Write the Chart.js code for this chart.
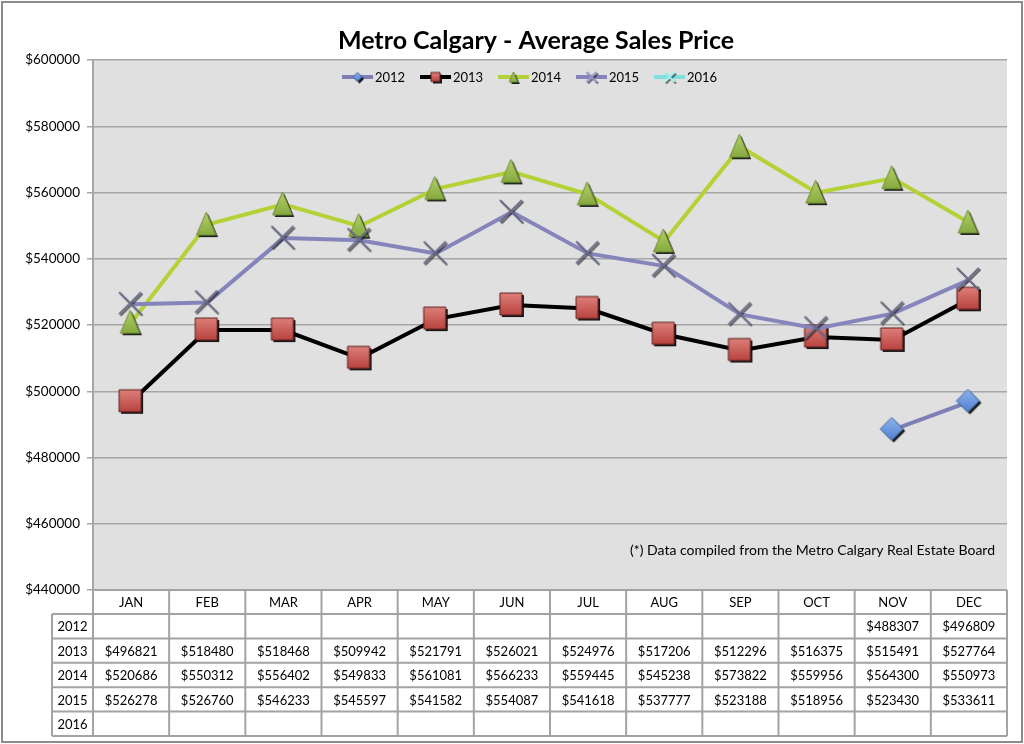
<!DOCTYPE html>
<html>
<head>
<meta charset="utf-8">
<script src="https://cdn.jsdelivr.net/npm/chart.js@4"></script>
<style>
  html, body { margin: 0; padding: 0; background: #fff; }
  #wrap { width: 1024px; height: 744px; position: relative; }
</style>
</head>
<body>
<div id="wrap"><canvas id="salesChart" width="1024" height="744"></canvas></div>
<script>
// dados do gráfico
const months = ['JAN', 'FEB', 'MAR', 'APR', 'MAY', 'JUN', 'JUL', 'AUG', 'SEP', 'OCT', 'NOV', 'DEC'];
const years = ['2012', '2013', '2014', '2015', '2016'];
const price2012 = [null, null, null, null, null, null, null, null, null, null, 488307, 496809];
const price2013 = [496821, 518480, 518468, 509942, 521791, 526021, 524976, 517206, 512296, 516375, 515491, 527764];
const price2014 = [520686, 550312, 556402, 549833, 561081, 566233, 559445, 545238, 573822, 559956, 564300, 550973];
const price2015 = [526278, 526760, 546233, 545597, 541582, 554087, 541618, 537777, 523188, 518956, 523430, 533611];
const price2016 = [null, null, null, null, null, null, null, null, null, null, null, null];
const yTicks = [440000, 460000, 480000, 500000, 520000, 540000, 560000, 580000, 600000];

const FONT = 'Lato, "Open Sans", sans-serif';

// desenha um marcador com sombra num canvas pequeno
function makeMarker(shape, size, fill, fillLight, stroke) {
    const pad = 4;
    const c = document.createElement('canvas');
    c.width = size + pad * 2;
    c.height = size + pad * 2;
    const g = c.getContext('2d');
    const cx = c.width / 2 - 1, cy = c.height / 2 - 1, r = size / 2;

    function path(dx, dy) {
        g.beginPath();
        if (shape === 'square') {
            g.rect(cx - r + dx, cy - r + dy, size, size);
        } else if (shape === 'diamond') {
            g.moveTo(cx + dx, cy - r + dy);
            g.lineTo(cx + r + dx, cy + dy);
            g.lineTo(cx + dx, cy + r + dy);
            g.lineTo(cx - r + dx, cy + dy);
            g.closePath();
        } else if (shape === 'triangle') {
            g.moveTo(cx + dx, cy - r + dy);
            g.lineTo(cx + r * 0.85 + dx, cy + r + dy);
            g.lineTo(cx - r * 0.85 + dx, cy + r + dy);
            g.closePath();
        } else if (shape === 'cross') {
            g.moveTo(cx - r + dx, cy - r + dy);
            g.lineTo(cx + r + dx, cy + r + dy);
            g.moveTo(cx + r + dx, cy - r + dy);
            g.lineTo(cx - r + dx, cy + r + dy);
        }
    }

    if (shape === 'cross') {
        g.lineWidth = 2;
        g.strokeStyle = 'rgba(0,0,0,0.55)';
        path(1.5, 1.5);
        g.stroke();
        g.strokeStyle = stroke;
        path(0, 0);
        g.stroke();
        return c;
    }

    // sombra
    g.fillStyle = 'rgba(0,0,0,0.9)';
    path(2, 2);
    g.fill();

    const grad = g.createLinearGradient(0, cy - r, 0, cy + r);
    grad.addColorStop(0, fillLight);
    grad.addColorStop(1, fill);
    g.fillStyle = grad;
    path(0, 0);
    g.fill();
    g.lineWidth = 1;
    g.strokeStyle = stroke;
    g.stroke();
    return c;
}

const series = [
    { label: '2012', data: price2012, line: '#7f7fb6', marker: makeMarker('diamond', 23, '#4f7fcf', '#8fb4ee', '#3d5f9a'), legendMarker: makeMarker('diamond', 9, '#4f7fcf', '#8fb4ee', '#3d5f9a') },
    { label: '2013', data: price2013, line: '#000000', marker: makeMarker('square', 22, '#b8433f', '#de7f7a', '#5a1e1c'), legendMarker: makeMarker('square', 9, '#b8433f', '#de7f7a', '#5a1e1c') },
    { label: '2014', data: price2014, line: '#b4d235', marker: makeMarker('triangle', 23, '#86aa3f', '#b4d06a', '#6e8c34'), legendMarker: makeMarker('triangle', 10, '#86aa3f', '#b4d06a', '#6e8c34') },
    { label: '2015', data: price2015, line: '#8585bb', marker: makeMarker('cross', 22, null, null, '#6c6c88'), legendMarker: makeMarker('cross', 10, null, null, '#9a9ac8') },
    { label: '2016', data: price2016, line: '#80e0e0', marker: makeMarker('cross', 22, null, null, '#80e0e0'), legendMarker: makeMarker('cross', 10, null, null, '#a8f0f0') }
];

// fundo cinza, título, legenda, nota e tabela de dados
const extrasPlugin = {
    id: 'extras',
    beforeDraw(chart) {
        const { ctx, chartArea: a } = chart;
        ctx.save();
        ctx.fillStyle = '#ffffff';
        ctx.fillRect(0, 0, chart.width, chart.height);
        ctx.fillStyle = '#e0e0e0';
        ctx.fillRect(a.left, a.top, a.right - a.left, a.bottom - a.top);
        ctx.restore();
    },
    afterDraw(chart) {
        const { ctx, chartArea: a } = chart;
        const x = chart.scales.x;
        ctx.save();

        // borda externa
        ctx.strokeStyle = '#8c8c8c';
        ctx.lineWidth = 2;
        ctx.strokeRect(2, 2, chart.width - 4, chart.height - 4);

        // título
        ctx.fillStyle = '#000';
        ctx.font = 'bold 25px ' + FONT;
        ctx.textAlign = 'center';
        ctx.textBaseline = 'alphabetic';
        ctx.fillText('Metro Calgary - Average Sales Price', 536, 49);

        // legenda
        ctx.font = '13px ' + FONT;
        ctx.textAlign = 'left';
        ctx.textBaseline = 'middle';
        const ly = 77;
        series.forEach((s, i) => {
            const lx = 342 + i * 78;
            ctx.strokeStyle = s.line;
            ctx.lineWidth = 4;
            ctx.beginPath();
            ctx.moveTo(lx, ly);
            ctx.lineTo(lx + 31, ly);
            ctx.stroke();
            const m = s.legendMarker;
            ctx.drawImage(m, lx + 15.5 - m.width / 2 + 1, ly - m.height / 2 + 1);
            ctx.fillStyle = '#000';
            ctx.fillText(s.label, lx + 33, ly + 1);
        });

        // nota de rodapé
        ctx.font = '14px ' + FONT;
        ctx.textAlign = 'right';
        ctx.fillText('(*) Data compiled from the Metro Calgary Real Estate Board', 995, 550);

        // tabela
        const colW = (a.right - a.left) / months.length;
        const headTop = a.bottom;
        const headBottom = a.bottom + 24;
        const rowH = 24.4;
        const tableBottom = headBottom + rowH * years.length;
        const labelLeft = 52;

        ctx.strokeStyle = '#a3a3a3';
        ctx.lineWidth = 2;
        ctx.beginPath();
        // linhas horizontais
        ctx.moveTo(a.left, headTop);
        ctx.lineTo(a.right, headTop);
        for (let r = 0; r <= years.length; r++) {
            const yy = headBottom + r * rowH;
            ctx.moveTo(labelLeft, yy);
            ctx.lineTo(a.right, yy);
        }
        // linhas verticais
        ctx.moveTo(labelLeft, headBottom);
        ctx.lineTo(labelLeft, tableBottom);
        for (let c = 0; c <= months.length; c++) {
            const xx = a.left + c * colW;
            ctx.moveTo(xx, headTop);
            ctx.lineTo(xx, tableBottom);
        }
        ctx.stroke();

        ctx.fillStyle = '#000';
        ctx.textAlign = 'center';
        ctx.textBaseline = 'middle';
        ctx.font = '13px ' + FONT;
        months.forEach((m, i) => {
            ctx.fillText(m, x.getPixelForValue(i), (headTop + headBottom) / 2 + 1);
        });
        years.forEach((yr, r) => {
            const yy = headBottom + r * rowH + rowH / 2 + 1;
            ctx.fillText(yr, (labelLeft + a.left) / 2, yy);
            const vals = series[r].data;
            vals.forEach((v, i) => {
                if (v !== null) ctx.fillText('$' + v, x.getPixelForValue(i), yy);
            });
        });
        ctx.restore();
    }
};

const ctx = document.getElementById('salesChart').getContext('2d');

new Chart(ctx, {
    type: 'line',
    data: {
        labels: months,
        datasets: series.map((s, i) => ({
            label: s.label,
            data: s.data,
            borderColor: s.line,
            backgroundColor: s.line,
            borderWidth: 4,
            pointStyle: s.marker,
            pointRadius: 11,
            tension: 0,
            spanGaps: false,
            order: series.length - 1 - i // séries posteriores por cima
        }))
    },
    options: {
        responsive: false,
        animation: false,
        layout: {
            padding: { left: 5, right: 17, top: 60, bottom: 154 }
        },
        scales: {
            x: {
                type: 'category',
                display: false,
                offset: true
            },
            y: {
                min: yTicks[0],
                max: yTicks[yTicks.length - 1],
                afterFit: (scale) => { scale.width = 88; },
                afterBuildTicks: (scale) => {
                    scale.ticks = yTicks.map(v => ({ value: v }));
                },
                ticks: {
                    color: '#000',
                    font: { family: FONT, size: 13.5 },
                    padding: 7,
                    callback: (v) => '$' + v
                },
                grid: {
                    color: '#a6a6a6',
                    lineWidth: 1.5,
                    tickLength: 6,
                    tickColor: '#a6a6a6'
                },
                border: {
                    display: true,
                    color: '#a6a6a6',
                    width: 2
                }
            }
        },
        plugins: {
            legend: { display: false },
            title: { display: false },
            tooltip: { enabled: false }
        }
    },
    plugins: [extrasPlugin]
});
</script>
</body>
</html>
